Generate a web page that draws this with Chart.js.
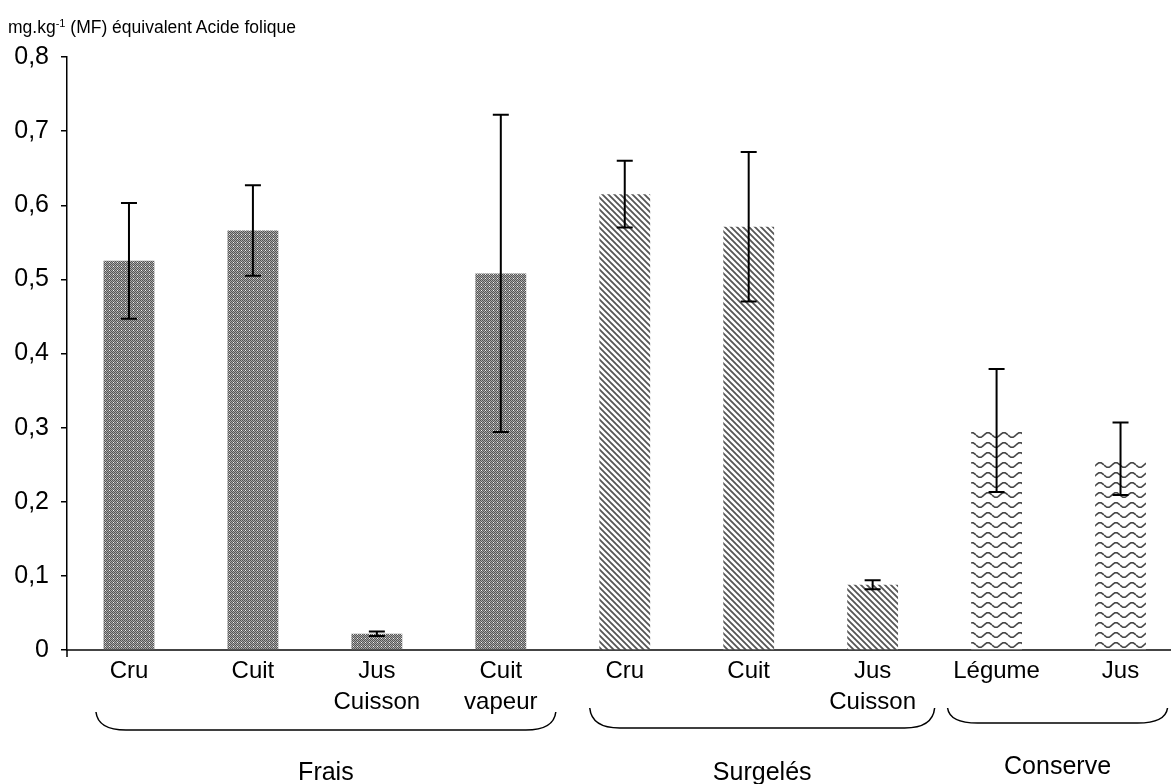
<!DOCTYPE html>
<html>
<head>
<meta charset="utf-8">
<script src="https://cdn.jsdelivr.net/npm/chart.js@4"></script>
<style>
  html, body { margin: 0; padding: 0; background: #fff; overflow: hidden; }
  #wrap { position: relative; width: 1190px; height: 784px; }
  #unit {
    position: absolute; left: 8px; top: 17px;
    font-family: "Liberation Sans", Arial, sans-serif; font-size: 17.5px; color: #000;
  }
  #unit sup { font-size: 11px; vertical-align: 6px; }
</style>
</head>
<body>
<div id="wrap">
  <div id="unit">mg.kg<sup>-1</sup> (MF) équivalent Acide folique</div>
  <canvas id="chart" width="1190" height="784"></canvas>
</div>
<script>
// data
const categories = [
  "Cru", "Cuit", ["Jus", "Cuisson"], ["Cuit", "vapeur"],
  "Cru", "Cuit", ["Jus", "Cuisson"],
  "Légume", "Jus"
];
const values = [0.525, 0.566, 0.022, 0.508, 0.615, 0.571, 0.088, 0.296, 0.258];
const errors = [0.078, 0.061, 0.003, 0.214, 0.045, 0.101, 0.006, 0.083, 0.049];
const groupOf = [0, 0, 0, 0, 1, 1, 1, 2, 2];
const groupNames = ["Frais", "Surgelés", "Conserve"];
const yTicks = [0, 0.1, 0.2, 0.3, 0.4, 0.5, 0.6, 0.7, 0.8];

// fill patterns for the three groups
function checkerPattern() {
  const c = document.createElement("canvas");
  c.width = 4; c.height = 4;
  const g = c.getContext("2d");
  for (let y = 0; y < 4; y++) {
    for (let x = 0; x < 4; x++) {
      g.fillStyle = (x + y) % 2 === 0 ? "#555" : "#a8a8a8";
      if (x === 1 && y === 2) g.fillStyle = "#f0f0f0";
      g.fillRect(x, y, 1, 1);
    }
  }
  return g.createPattern(c, "repeat");
}

function stripePattern() {
  const c = document.createElement("canvas");
  c.width = 6; c.height = 6;
  const g = c.getContext("2d");
  g.fillStyle = "#fff";
  g.fillRect(0, 0, 6, 6);
  g.strokeStyle = "#555";
  g.lineWidth = 1.8;
  g.beginPath();
  g.moveTo(-1, -1); g.lineTo(7, 7);
  g.moveTo(-4, 2); g.lineTo(4, 10);
  g.moveTo(2, -4); g.lineTo(10, 4);
  g.stroke();
  return g.createPattern(c, "repeat");
}

function wavePattern() {
  const c = document.createElement("canvas");
  c.width = 16; c.height = 10;
  const g = c.getContext("2d");
  g.fillStyle = "#fff";
  g.fillRect(0, 0, 16, 10);
  g.strokeStyle = "#444";
  g.lineWidth = 1.6;
  g.beginPath();
  for (let x = 0; x <= 16; x += 0.5) {
    const y = 5 + 2.3 * Math.sin(x / 16 * Math.PI * 2);
    if (x === 0) g.moveTo(x, y); else g.lineTo(x, y);
  }
  g.stroke();
  return g.createPattern(c, "repeat");
}

const groupFills = [checkerPattern(), stripePattern(), wavePattern()];

// error bars drawn on top of the bars
const errorBars = {
  id: "errorBars",
  afterDatasetsDraw(chart) {
    const ctx = chart.ctx;
    const y = chart.scales.y;
    const meta = chart.getDatasetMeta(0);
    ctx.save();
    ctx.strokeStyle = "#000";
    ctx.lineWidth = 2;
    meta.data.forEach((bar, i) => {
      const top = y.getPixelForValue(values[i] + errors[i]);
      const bot = y.getPixelForValue(values[i] - errors[i]);
      ctx.beginPath();
      ctx.moveTo(bar.x, top); ctx.lineTo(bar.x, bot);
      ctx.moveTo(bar.x - 8, top); ctx.lineTo(bar.x + 8, top);
      ctx.moveTo(bar.x - 8, bot); ctx.lineTo(bar.x + 8, bot);
      ctx.stroke();
    });
    // little tick of the x axis below the origin
    const a = chart.chartArea;
    ctx.lineWidth = 1.5;
    ctx.beginPath();
    ctx.moveTo(a.left, a.bottom); ctx.lineTo(a.left, a.bottom + 7);
    ctx.stroke();
    ctx.restore();
  }
};

// braces under the groups + group names
const groupBraces = {
  id: "groupBraces",
  afterDraw(chart) {
    const ctx = chart.ctx;
    const x = chart.scales.x;
    const spans = [
      { a: x.getPixelForValue(0) - 33, b: x.getPixelForValue(3) + 55, top: 712, bot: 730, ty: 773 },
      { a: x.getPixelForValue(4) - 35, b: x.getPixelForValue(6) + 62, top: 708, bot: 728, ty: 773 },
      { a: x.getPixelForValue(7) - 49, b: x.getPixelForValue(8) + 47, top: 708, bot: 723, ty: 767 }
    ];
    ctx.save();
    ctx.strokeStyle = "#000";
    ctx.lineWidth = 1.5;
    ctx.fillStyle = "#000";
    ctx.font = "25px 'Liberation Sans', Arial, sans-serif";
    ctx.textAlign = "center";
    ctx.textBaseline = "middle";
    spans.forEach((s, i) => {
      const r = 30;
      ctx.beginPath();
      ctx.moveTo(s.a, s.top);
      ctx.quadraticCurveTo(s.a + 2, s.bot, s.a + r, s.bot);
      ctx.lineTo(s.b - r, s.bot);
      ctx.quadraticCurveTo(s.b - 2, s.bot, s.b, s.top);
      ctx.stroke();
      ctx.fillText(groupNames[i], (s.a + s.b) / 2, s.ty);
    });
    ctx.restore();
  }
};

const font = { family: "'Liberation Sans', Arial, sans-serif", size: 24, lineHeight: 1.3 };

new Chart(document.getElementById("chart").getContext("2d"), {
  type: "bar",
  data: {
    labels: categories,
    datasets: [{
      data: values,
      backgroundColor: values.map((v, i) => groupFills[groupOf[i]]),
      borderWidth: 0,
      barPercentage: 0.41,
      categoryPercentage: 1
    }]
  },
  options: {
    responsive: false,
    animation: false,
    layout: { padding: { top: 57, right: 7.5, left: 0, bottom: 0 } },
    plugins: { legend: { display: false }, tooltip: { enabled: false } },
    scales: {
      x: {
        grid: { display: false, drawTicks: false },
        border: { display: true, color: "#444", width: 2 },
        ticks: { color: "#000", font: font, padding: 6, maxRotation: 0, autoSkip: false },
        afterFit(scale) { scale.height = 134; }
      },
      y: {
        min: 0,
        max: 0.8,
        afterBuildTicks(scale) { scale.ticks = yTicks.map(v => ({ value: v })); },
        grid: { drawOnChartArea: false, drawTicks: true, tickLength: 6, color: "#000", lineWidth: 1.5 },
        border: { display: true, color: "#000", width: 1.5 },
        ticks: {
          color: "#000", font: { family: font.family, size: 25 }, padding: 12,
          callback: v => v === 0 ? "0" : v.toFixed(1).replace(".", ",")
        },
        afterFit(scale) { scale.width = 67; }
      }
    }
  },
  plugins: [errorBars, groupBraces]
});
</script>
</body>
</html>
